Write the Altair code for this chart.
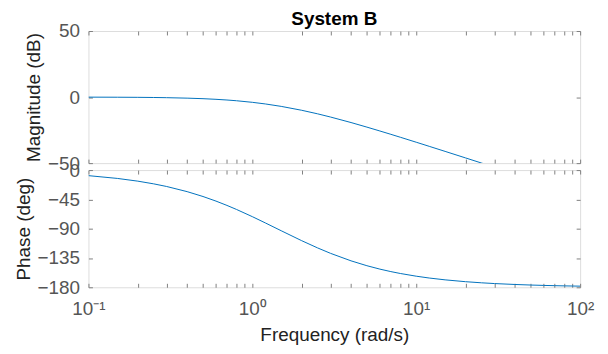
import altair as alt
import pandas as pd

# Data
freq = [0.1, 0.15, 0.2, 0.25, 0.3, 0.4, 0.5, 0.6, 0.7, 0.8,
        1, 1.2, 1.5, 2, 2.5, 3, 4, 5, 6, 7,
        8, 10, 12, 15, 20, 25, 30, 40, 50, 60, 70, 80, 100]
mag = [-0.05, -0.12, -0.21, -0.33, -0.47, -0.82, -1.23, -1.71, -2.23, -2.79,
       -3.98, -5.21, -7.06, -10.0, -12.69, -15.12, -19.29, -22.75, -25.68, -28.21,
       -30.43, -34.19, -37.30, -41.12, -46.08, -49.93, -53.09, -58.08, -61.95, -65.11, -67.79, -70.11, -73.98]
phase = [-8.57, -12.82, -17.02, -21.17, -25.23, -33.11, -40.60, -47.66, -54.28, -60.46,
         -71.57, -81.15, -93.18, -108.43, -119.54, -127.88, -139.40, -146.89, -152.11, -155.92,
         -158.83, -162.98, -165.78, -168.60, -171.43, -173.14, -174.28, -175.71, -176.56, -177.14, -177.54, -177.85, -178.28]

x_tick_values = [0.1, 0.2, 0.3, 0.4, 0.5, 0.6, 0.7, 0.8, 0.9,
                 1, 2, 3, 4, 5, 6, 7, 8, 9,
                 10, 20, 30, 40, 50, 60, 70, 80, 90, 100]
mag_ticks = [-50, 0, 50]
phase_ticks = [0, -45, -90, -135, -180]

title_text = "System B"
mag_title = "Magnitude (dB)"
phase_title = "Phase (deg)"
freq_title = "Frequency  (rad/s)"

df = pd.DataFrame({"freq": freq, "mag": mag, "phase": phase})

FONT = "Liberation Sans"
GRAY = "#808080"
LABEL = "#555555"
BLUE = "#0072BD"
TICK = 4
FS = 19
W = 495

label_expr = ("datum.value == 0.1 ? '10\u207b\u00b9' : datum.value == 1 ? '10\u2070' : "
              "datum.value == 10 ? '10\u00b9' : datum.value == 100 ? '10\u00b2' : ''")

xscale = alt.Scale(type="log", domain=[0.1, 100], nice=False)


def xaxis(orient, labels, title=None):
    kw = dict(orient=orient, values=x_tick_values, labels=labels, domain=False,
              ticks=True, tickSize=TICK, offset=-TICK, tickColor=GRAY, grid=False,
              labelFlush=False, labelOverlap=False)
    if labels:
        kw.update(labelExpr=label_expr, labelFont=FONT, labelFontSize=FS, labelColor=LABEL,
                  labelPadding=12)
    if title:
        kw.update(title=title, titleFont=FONT, titleFontSize=FS, titleFontWeight="normal",
                  titleColor="#222222", titlePadding=8)
    else:
        kw.update(title=None)
    return alt.Axis(**kw)


def yaxis(orient, labels, values, title=None):
    kw = dict(orient=orient, values=values, labels=labels, domain=False,
              ticks=True, tickSize=TICK, offset=-TICK, tickColor=GRAY, grid=False,
              labelFlush=False, labelOverlap=False)
    if labels:
        kw.update(labelFont=FONT, labelFontSize=FS, labelColor=LABEL, labelPadding=9)
    if title:
        kw.update(title=title, titleFont=FONT, titleFontSize=FS, titleFontWeight="normal",
                  titleColor="#222222", titlePadding=4)
    else:
        kw.update(title=None)
    return alt.Axis(**kw)


def panel(field, domain, yticks, ytitle, xlabels, xtitle, height, title=None):
    base = alt.Chart(df)
    main = base.mark_line(color=BLUE, strokeWidth=1, clip=True).encode(
        x=alt.X("freq:Q", scale=xscale, axis=xaxis("bottom", xlabels, xtitle)),
        y=alt.Y(f"{field}:Q", scale=alt.Scale(domain=domain, nice=False, zero=False),
                axis=yaxis("left", True, yticks, ytitle)),
    )
    ghost = base.mark_line(opacity=0, clip=True).encode(
        x=alt.X("freq:Q", scale=xscale, axis=xaxis("top", False)),
        y=alt.Y(f"{field}:Q", scale=alt.Scale(domain=domain, nice=False, zero=False),
                axis=yaxis("right", False, yticks)),
    )
    props = dict(width=W, height=height)
    if title:
        props["title"] = alt.TitleParams(title, font=FONT, fontSize=FS, fontWeight="bold",
                                         color="#000000", anchor="middle", offset=-7,
                                         frame="group")
    return alt.layer(main, ghost).resolve_axis(x="independent", y="independent").properties(**props)


top = panel("mag", [-50, 50], mag_ticks, mag_title, False, None, 133, title_text)
bottom = panel("phase", [-180, 0], phase_ticks, phase_title, True, freq_title, 118)

chart = alt.vconcat(top, bottom, spacing=7, bounds="flush").properties(
    padding={"left": 5, "top": 0, "right": 5, "bottom": 5}
).configure_view(stroke=GRAY, strokeWidth=1).configure(background="white")

chart.save("out.html", embed_options={"renderer": "svg", "actions": False})
